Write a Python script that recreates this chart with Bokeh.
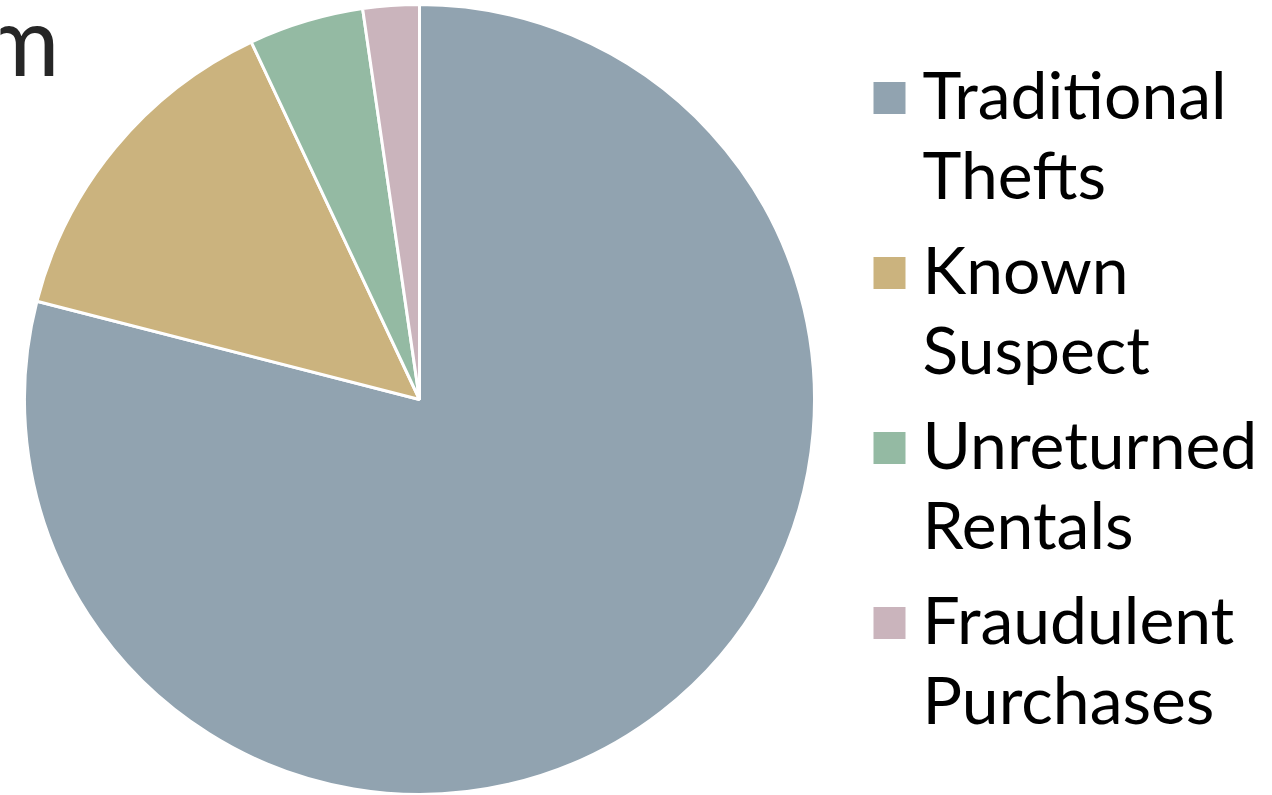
import numpy as np
from bokeh.plotting import figure
from bokeh.models import Range1d, ColumnDataSource
from bokeh.core.properties import value
from bokeh.embed import file_html
from bokeh.resources import INLINE

# ---- data ----
categories = ["Traditional Thefts", "Known Suspect", "Unreturned Rentals", "Fraudulent Purchases"]
shares = [79.0, 14.0, 4.7, 2.3]
colors = ["#91A3B0", "#CBB37E", "#94BAA3", "#CAB4BC"]
title_fragment = "m"

# ---- layout (screen px, top-left origin) ----
W, H = 1272, 795
def dx(sx):
    return sx
def dy(sy):
    return H - sy

FS_LEG = 66
FS_TITLE = 96
BASE_SHIFT = 0.4  # empirical correction of the alphabetic baseline, in em

p = figure(width=W, height=H, output_backend="svg", toolbar_location=None,
           x_range=Range1d(0, W), y_range=Range1d(0, H), min_border=0)
p.axis.visible = False
p.grid.visible = False
p.outline_line_color = None
p.background_fill_color = "white"
p.border_fill_color = "white"

# pie
vals = np.array(shares, dtype=float)
frac = vals / vals.sum()
cum = np.concatenate([[0.0], np.cumsum(frac)])
start = np.pi / 2 - 2 * np.pi * cum[:-1]
end = np.pi / 2 - 2 * np.pi * cum[1:]
src = ColumnDataSource(dict(start=start, end=end, color=colors, cat=categories))
p.wedge(x=dx(419), y=dy(399), radius=395, start_angle="start", end_angle="end",
        direction="clock", fill_color="color", line_color="white", line_width=3,
        source=src)

# clipped title fragment
p.text(x=[dx(59)], y=[dy(76 - BASE_SHIFT * FS_TITLE)], text=[title_fragment], text_align="right",
       text_baseline="alphabetic", text_font=value("Lato"), text_font_size=f"{FS_TITLE}px",
       text_color="#262626")

# legend
font = value("Lato")
for i, (cat, col) in enumerate(zip(categories, colors)):
    first, second = cat.split(" ", 1)
    step = 175 * i
    p.rect(x=[dx(889)], y=[dy(97.5 + step)], width=32, height=32,
           fill_color=col, line_color=None)
    for j, word in enumerate((first, second)):
        p.text(x=[dx(922)], y=[dy(119 + 80 * j + step - BASE_SHIFT * FS_LEG)], text=[word],
               text_align="left", text_baseline="alphabetic", text_font=font,
               text_font_size=f"{FS_LEG}px", text_color="black")

open("out.html", "w").write(file_html(p, INLINE))
